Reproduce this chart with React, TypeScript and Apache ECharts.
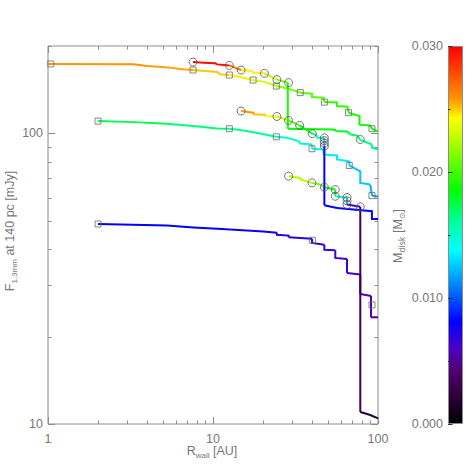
import React, { useEffect, useRef } from 'react';
import * as echarts from 'echarts';

// ---- axis ticks ----
const X_MAJOR_TICKS = [1, 10, 100];
const X_MINOR_TICKS = [2, 3, 4, 5, 6, 7, 8, 9, 20, 30, 40, 50, 60, 70, 80, 90];
const Y_MAJOR_TICKS = [10, 100];
const Y_MINOR_TICKS = [20, 30, 40, 50, 60, 70, 80, 90, 200];
const MASS_MIN = 0;
const MASS_MAX = 0.03;
const MASS_STEP = 0.01;

// ---- curves: x = R_wall [AU], y = F [mJy], m = disk mass of each segment ----
const S1_X = [1, 3.3, 4.0, 5.5, 6.5, 7.57, 10.6, 11.07, 12.56, 14.6, 17.5, 20.5, 24.2, 28.3, 33.8, 39.8, 39.8, 46.8, 47.3, 56.4, 56.4, 65.4, 66.3, 77.3, 77.3, 89.8, 91.9, 100];
const S1_Y = [173.5, 172.9, 170.6, 168.5, 166.2, 165.3, 162.7, 159.7, 158.9, 156.4, 152.7, 150.5, 145.6, 142.9, 138.2, 137.0, 133.4, 132.8, 128.2, 127.9, 124.2, 123.6, 117.9, 114.7, 107.2, 106.6, 103.8, 101.5];
const S1_M = [0.0258, 0.0258, 0.0257, 0.0256, 0.0255, 0.0251, 0.0251, 0.0251, 0.0245, 0.0245, 0.0232, 0.0230, 0.0213, 0.0210, 0.0204, 0.0204, 0.0204, 0.0204, 0.0196, 0.0196, 0.0196, 0.0196, 0.0189, 0.0189, 0.0189, 0.0189, 0.0187];

const C1_X = [7.57, 8.77, 10.3, 10.6, 12.56, 14.8, 17.2, 17.6, 20.5, 24.4, 28.4, 28.4, 53.6, 56.4, 65.2, 67.9, 74.6, 78.1, 91.9, 92.1, 100];
const C1_Y = [176.1, 175.3, 174.3, 172.9, 171.5, 165.3, 164.1, 162.0, 161.0, 153.2, 149.6, 103.8, 103.2, 101.8, 101.6, 99.2, 98.4, 95.0, 91.6, 89.3, 88.1];
const C1_M = [0.0297, 0.0297, 0.0297, 0.0297, 0.0268, 0.0245, 0.0245, 0.0245, 0.0228, 0.0210, 0.0190, 0.0186, 0.0186, 0.0178, 0.0178, 0.0170, 0.0170, 0.0164, 0.0162, 0.0162];

const C2_X = [14.8, 17.6, 17.6, 20.7, 20.7, 24.4, 28.7, 33.5, 40.0, 42.7, 42.7, 47.3, 47.3, 47.3, 56.4, 91.9, 91.9, 100];
const C2_Y = [119.4, 117.9, 116.3, 116.0, 114.6, 114.4, 110.9, 106.6, 99.8, 98.6, 96.6, 96.6, 90.4, 56.6, 55.4, 54.0, 50.8, 50.8];
const C2_M = [0.0257, 0.0257, 0.0251, 0.0251, 0.0244, 0.0228, 0.0205, 0.0186, 0.0165, 0.0158, 0.0150, 0.0125, 0.0081, 0.0080, 0.0079, 0.0079, 0.0079];

const C3_X = [28.7, 33.8, 33.8, 39.8, 44.7, 47.3, 55.1, 55.1, 64.9, 64.9, 78.1, 78.1, 89.8, 100];
const C3_Y = [71.3, 70.3, 69.4, 67.6, 66.7, 65.3, 64.1, 60.8, 60.2, 56.9, 55.9, 11.0, 10.74, 10.46];
const C3_M = [0.0225, 0.0225, 0.0225, 0.0212, 0.0212, 0.0188, 0.0175, 0.0151, 0.0125, 0.0062, 0.0033, 0.0020, 0.0020];

const S2_X = [2.01, 3.29, 5.26, 7.63, 10.6, 12.56, 14.6, 17.6, 20.7, 24.0, 28.1, 33.0, 33.8, 39.8, 39.8, 46.8, 46.8, 56.4, 56.4, 67.0, 67.0, 78.1, 78.1, 89.8, 91.9, 100];
const S2_Y = [110.3, 109.4, 108.0, 106.0, 104.0, 103.8, 102.7, 101.0, 99.2, 97.4, 96.6, 94.1, 92.4, 91.6, 88.6, 88.1, 84.6, 84.0, 81.4, 80.3, 77.6, 74.1, 67.6, 66.7, 61.1, 60.7];
const S2_M = [0.0174, 0.0174, 0.0167, 0.0167, 0.0167, 0.0162, 0.0162, 0.0162, 0.0162, 0.0151, 0.0151, 0.0151, 0.0151, 0.0146, 0.0140, 0.0136, 0.0133, 0.0133, 0.0133, 0.0129, 0.0125, 0.0125, 0.0125, 0.0120, 0.0115];

const S3_X = [2.01, 5.26, 7.63, 10.6, 12.7, 20.2, 24.4, 24.4, 28.7, 28.7, 39.8, 39.8, 47.3, 47.3, 55.1, 55.1, 64.9, 64.9, 78.1, 78.1, 90.7, 90.7, 100];
const S3_Y = [48.8, 48.2, 47.5, 47.0, 46.7, 46.0, 45.5, 44.8, 44.5, 43.9, 43.4, 42.0, 41.4, 39.8, 39.6, 37.3, 37.0, 33.1, 32.7, 28.0, 27.6, 23.3, 23.3];
const S3_M = [0.0081, 0.0081, 0.0081, 0.0081, 0.0076, 0.0076, 0.0072, 0.0072, 0.0072, 0.0071, 0.0068, 0.0068, 0.0066, 0.0066, 0.0064, 0.0064, 0.0063, 0.0062, 0.0060, 0.0058, 0.0057, 0.0056];

// ---- markers ----
const SQUARE_X = [1.04, 7.57, 12.56, 17.5, 24.2, 33.8, 47.3, 66.3, 91.9, 2.01, 12.56, 24.2, 39.8, 67.0, 91.9, 2.01, 40.0, 91.9];
const SQUARE_Y = [173.5, 165.3, 158.9, 152.7, 145.6, 138.2, 128.2, 117.9, 103.8, 110.3, 103.8, 97.4, 88.6, 77.6, 61.1, 48.8, 42.9, 25.7];
const CIRCLE_X = [7.57, 12.56, 14.8, 20.5, 24.4, 28.7, 78.1, 14.8, 24.4, 28.7, 33.5, 40.0, 47.3, 47.3, 47.3, 47.3, 28.7, 39.8, 47.3, 55.1, 55.1, 64.9, 64.9, 64.9, 78.1];
const CIRCLE_Y = [176.1, 171.5, 165.3, 161.0, 153.2, 149.6, 95.3, 119.4, 114.4, 110.9, 106.6, 99.8, 96.6, 94.5, 92.5, 90.4, 71.3, 67.6, 65.3, 64.1, 60.8, 60.2, 58.6, 56.9, 55.9];

// ---- colour table (rainbow) ----
const CMAP: [number, number[]][] = [
  [0.0, [0, 0, 0]],
  [0.08, [48, 0, 64]],
  [0.14, [80, 0, 110]],
  [0.2, [75, 0, 200]],
  [0.27, [0, 0, 255]],
  [0.38, [0, 150, 255]],
  [0.46, [0, 255, 255]],
  [0.54, [0, 255, 150]],
  [0.62, [0, 255, 0]],
  [0.75, [180, 255, 0]],
  [0.81, [255, 255, 0]],
  [0.86, [255, 150, 0]],
  [1.0, [255, 0, 0]],
];

function rgb(c: number[]) {
  return `rgb(${Math.round(c[0])},${Math.round(c[1])},${Math.round(c[2])})`;
}

function cmap(m: number) {
  const t = Math.max(0, Math.min(1, (m - MASS_MIN) / (MASS_MAX - MASS_MIN)));
  for (let i = 1; i < CMAP.length; i++) {
    const [t1, c1] = CMAP[i];
    const [t0, c0] = CMAP[i - 1];
    if (t <= t1) {
      const f = (t - t0) / (t1 - t0);
      return rgb([c0[0] + (c1[0] - c0[0]) * f, c0[1] + (c1[1] - c0[1]) * f, c0[2] + (c1[2] - c0[2]) * f]);
    }
  }
  return rgb(CMAP[CMAP.length - 1][1]);
}

function pieces(xs: number[], ys: number[], ms: number[]) {
  const out: { m: number; pts: number[][] }[] = [];
  let s = 0;
  for (let j = 1; j <= ms.length; j++) {
    if (j === ms.length || ms[j] !== ms[s]) {
      const pts: number[][] = [];
      for (let k = s; k <= j; k++) pts.push([xs[k], ys[k]]);
      out.push({ m: ms[s], pts });
      s = j;
    }
  }
  return out;
}

const FONT = "'Liberation Sans', 'DejaVu Sans', sans-serif";
const TXT = '#777';
const FRAME = '#8c8c8c';

function buildOption() {
  const curves = [
    [S3_X, S3_Y, S3_M],
    [S2_X, S2_Y, S2_M],
    [S1_X, S1_Y, S1_M],
    [C3_X, C3_Y, C3_M],
    [C2_X, C2_Y, C2_M],
    [C1_X, C1_Y, C1_M],
  ];
  const lineSeries: any[] = [];
  curves.forEach(([xs, ys, ms]) => {
    pieces(xs, ys, ms).forEach((p) => {
      lineSeries.push({
        type: 'line',
        xAxisIndex: 0,
        yAxisIndex: 0,
        data: p.pts,
        symbol: 'none',
        showSymbol: false,
        silent: true,
        lineStyle: { width: 2, color: cmap(p.m), cap: 'butt', join: 'miter' },
        z: 3,
      });
    });
  });

  const xTickData = X_MAJOR_TICKS.map((v) => [v, 10, 7]).concat(X_MINOR_TICKS.map((v) => [v, 10, 3.5]));
  const yTickData = Y_MAJOR_TICKS.map((v) => [1, v, 7]).concat(Y_MINOR_TICKS.map((v) => [1, v, 3.5]));

  const tickStyle = { stroke: FRAME, lineWidth: 1 };

  const logLabel = (v: number) => {
    const l = Math.log10(v);
    return Math.abs(l - Math.round(l)) < 1e-6 ? String(Math.round(v)) : '';
  };

  const gradStops = CMAP.map(([t, c]) => ({ offset: t, color: rgb(c) }));

  return {
    animation: false,
    backgroundColor: '#ffffff',
    textStyle: { fontFamily: FONT },
    grid: [
      {
        left: 48,
        top: 46,
        width: 330,
        height: 378,
        show: true,
        borderColor: FRAME,
        borderWidth: 1,
        backgroundColor: 'transparent',
        outerBoundsMode: 'none',
        containLabel: false,
      },
      {
        left: 448,
        top: 46,
        width: 15,
        height: 378,
        show: false,
        outerBoundsMode: 'none',
        containLabel: false,
      },
    ],
    xAxis: [
      {
        type: 'log',
        logBase: 10,
        min: 1,
        max: 100,
        gridIndex: 0,
        axisLine: { show: false },
        axisTick: { show: false },
        splitLine: { show: false },
        minorTick: { show: false },
        axisLabel: { formatter: logLabel, color: TXT, fontSize: 12.5, fontFamily: FONT, margin: 8 },
      },
      {
        type: 'category',
        gridIndex: 1,
        data: ['m'],
        show: false,
      },
    ],
    yAxis: [
      {
        type: 'log',
        logBase: 10,
        min: 10,
        max: 200,
        gridIndex: 0,
        axisLine: { show: false },
        axisTick: { show: false },
        splitLine: { show: false },
        minorTick: { show: false },
        axisLabel: { formatter: logLabel, color: TXT, fontSize: 12.5, fontFamily: FONT, margin: 5 },
      },
      {
        type: 'value',
        gridIndex: 1,
        min: MASS_MIN,
        max: MASS_MAX,
        interval: MASS_STEP,
        position: 'left',
        z: 6,
        axisLine: { show: false },
        axisTick: { show: true, inside: true, length: 4.5, lineStyle: { color: '#333', width: 1 } },
        minorTick: { show: true, splitNumber: 2, length: 2.5, lineStyle: { color: '#333', width: 1 } },
        splitLine: { show: false },
        minorSplitLine: { show: false },
        axisLabel: {
          formatter: (v: number) => v.toFixed(3),
          color: TXT,
          fontSize: 12.5,
          fontFamily: FONT,
          margin: 5,
        },
      },
    ],
    series: [
      {
        type: 'bar',
        xAxisIndex: 1,
        yAxisIndex: 1,
        data: [MASS_MAX],
        barWidth: '100%',
        silent: true,
        z: 2,
        itemStyle: {
          color: new echarts.graphic.LinearGradient(0, 1, 0, 0, gradStops),
          borderColor: FRAME,
          borderWidth: 1,
        },
      },
      ...lineSeries,
      {
        type: 'scatter',
        xAxisIndex: 0,
        yAxisIndex: 0,
        data: SQUARE_X.map((x, i) => [x, SQUARE_Y[i]]),
        symbol: 'rect',
        symbolSize: 6,
        silent: true,
        z: 5,
        itemStyle: { color: 'rgba(0,0,0,0)', borderColor: '#6a6a6a', borderWidth: 1 },
      },
      {
        type: 'scatter',
        xAxisIndex: 0,
        yAxisIndex: 0,
        data: CIRCLE_X.map((x, i) => [x, CIRCLE_Y[i]]),
        symbol: 'circle',
        symbolSize: 8,
        silent: true,
        z: 5,
        itemStyle: { color: 'rgba(0,0,0,0)', borderColor: '#555', borderWidth: 1 },
      },
      {
        type: 'custom',
        xAxisIndex: 0,
        yAxisIndex: 0,
        data: xTickData,
        silent: true,
        z: 6,
        renderItem: (params: any, api: any) => {
          const cs = params.coordSys;
          const p = api.coord([api.value(0), api.value(1)]);
          const len = api.value(2);
          const px = Math.round(p[0]) + 0.5;
          const yb = cs.y + cs.height;
          return {
            type: 'group',
            children: [
              { type: 'line', shape: { x1: px, y1: yb, x2: px, y2: yb - len }, style: tickStyle },
              { type: 'line', shape: { x1: px, y1: cs.y, x2: px, y2: cs.y + len }, style: tickStyle },
            ],
          };
        },
      },
      {
        type: 'custom',
        xAxisIndex: 0,
        yAxisIndex: 0,
        data: yTickData,
        silent: true,
        z: 6,
        renderItem: (params: any, api: any) => {
          const cs = params.coordSys;
          const p = api.coord([api.value(0), api.value(1)]);
          const len = api.value(2);
          const py = Math.round(p[1]) + 0.5;
          const xr = cs.x + cs.width;
          return {
            type: 'group',
            children: [
              { type: 'line', shape: { x1: cs.x, y1: py, x2: cs.x + len, y2: py }, style: tickStyle },
              { type: 'line', shape: { x1: xr, y1: py, x2: xr - len, y2: py }, style: tickStyle },
            ],
          };
        },
      },
    ],
    graphic: [
      {
        type: 'text',
        x: 212,
        y: 451,
        silent: true,
        style: {
          text: '{a|R}{b|wall}{a| [AU]}',
          align: 'center',
          verticalAlign: 'middle',
          rich: {
            a: { fontSize: 12.5, fontFamily: FONT, fill: TXT, lineHeight: 16 },
            b: { fontSize: 8, fontFamily: FONT, fill: TXT, lineHeight: 9, verticalAlign: 'bottom' },
          },
        },
      },
      {
        type: 'text',
        x: 10,
        y: 231,
        rotation: Math.PI / 2,
        silent: true,
        style: {
          text: '{a|F}{b|1.3mm}{a| at 140 pc [mJy]}',
          align: 'center',
          verticalAlign: 'middle',
          rich: {
            a: { fontSize: 12.5, fontFamily: FONT, fill: TXT, lineHeight: 16 },
            b: { fontSize: 8, fontFamily: FONT, fill: TXT, lineHeight: 9, verticalAlign: 'bottom' },
          },
        },
      },
      {
        type: 'text',
        x: 398,
        y: 236,
        rotation: Math.PI / 2,
        silent: true,
        style: {
          text: '{a|M}{b|disk}{a| [M}{b|⊙}{a|]}',
          align: 'center',
          verticalAlign: 'middle',
          rich: {
            a: { fontSize: 12.5, fontFamily: FONT, fill: TXT, lineHeight: 16 },
            b: { fontSize: 8, fontFamily: "'DejaVu Sans', sans-serif", fill: TXT, lineHeight: 9, verticalAlign: 'bottom' },
          },
        },
      },
    ],
  };
}

export default function App() {
  const ref = useRef<HTMLDivElement>(null);
  useEffect(() => {
    if (!ref.current) return;
    const chart = echarts.init(ref.current, null, { renderer: 'svg' });
    chart.setOption(buildOption() as any);
    return () => {
      chart.dispose();
    };
  }, []);
  return (
    <div
      ref={ref}
      style={{ position: 'fixed', left: 0, top: 0, width: 472, height: 472, background: '#ffffff' }}
    />
  );
}
